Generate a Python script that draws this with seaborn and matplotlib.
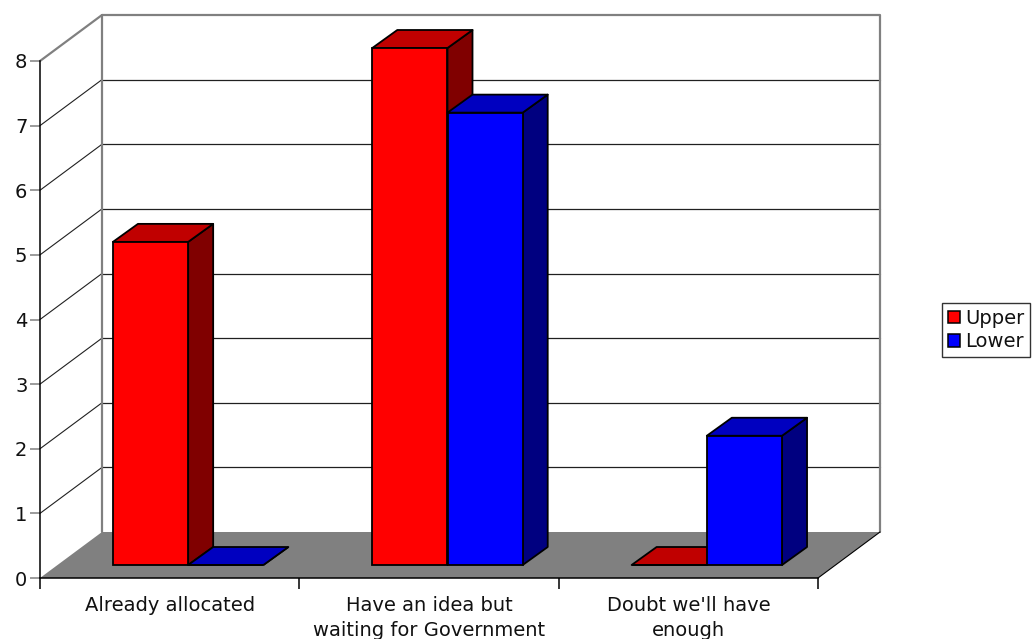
import numpy as np
import pandas as pd
import matplotlib
matplotlib.use("Agg")
import matplotlib.pyplot as plt
from matplotlib.patches import Polygon, Patch
import seaborn as sns

# ---- data ----
categories = ["Already allocated",
              "Have an idea but\nwaiting for Government",
              "Doubt we'll have\nenough"]
series = ["Upper", "Lower"]
upper_values = [5, 8, 0]
lower_values = [0, 7, 2]
y_ticks = [0, 1, 2, 3, 4, 5, 6, 7, 8]

front_colors = {"Upper": "#FF0000", "Lower": "#0000FF"}
top_colors = {"Upper": "#C00000", "Lower": "#0000C0"}
side_colors = {"Upper": "#800000", "Lower": "#000080"}

df = pd.DataFrame({
    "category": categories * 2,
    "series": ["Upper"] * 3 + ["Lower"] * 3,
    "value": upper_values + lower_values,
})

sns.set_theme(style="white")
plt.rcParams["font.family"] = ["DejaVu Sans"]

W, H = 1034, 639
fig = plt.figure(figsize=(W / 100, H / 100), dpi=100)
fig.patch.set_facecolor("white")

# front plane of the chart in pixels
x_left, x_right = 40, 818
y_zero, y_top = 578, 61
ax = fig.add_axes([x_left / W, (H - y_zero) / H,
                   (x_right - x_left) / W, (y_zero - y_top) / H])
ax.set_facecolor("none")

ymax = 8
ax.set_xlim(-0.5, 2.5)
ax.set_ylim(0, ymax)

# pixel -> data unit conversion for depth offsets
px_x = 3 / (x_right - x_left)
px_y = ymax / (y_zero - y_top)

def off(x, y, dx, dy):
    return (x + dx * px_x, y + dy * px_y)

# depth of walls / floor, and of bar front/back faces (pixels)
wall_dx, wall_dy = 62, 46
bar_front = (18.5, 13)
bar_back = (43.5, 31)

wall_grey = "#808080"
edge_lw = 1.3

# floor
floor = Polygon([(-0.5, 0), (2.5, 0), off(2.5, 0, wall_dx, wall_dy),
                 off(-0.5, 0, wall_dx, wall_dy)], closed=True,
                facecolor=wall_grey, edgecolor="none", clip_on=False, zorder=1)
ax.add_patch(floor)
fr = off(2.5, 0, wall_dx, wall_dy)
ax.plot([2.5, fr[0]], [0, fr[1]], color="black", lw=0.8, clip_on=False, zorder=1.2)

# back wall
bl = off(-0.5, 0, wall_dx, wall_dy)
tr = off(2.5, ymax, wall_dx, wall_dy)
back = Polygon([bl, (tr[0], bl[1]), tr, (bl[0], tr[1])], closed=True,
               facecolor="white", edgecolor="none", clip_on=False, zorder=0.5)
ax.add_patch(back)

# gridlines on back wall and left wall
for v in y_ticks[1:-1]:
    p = off(-0.5, v, wall_dx, wall_dy)
    q = off(2.5, v, wall_dx, wall_dy)
    ax.plot([p[0], q[0]], [p[1], q[1]], color="#202020", lw=0.9,
            clip_on=False, zorder=0.8)
    ax.plot([-0.5, p[0]], [v, p[1]], color="#202020", lw=0.8,
            clip_on=False, zorder=0.8)

# wall outlines
ax.plot([bl[0], bl[0], tr[0], tr[0]], [bl[1], tr[1], tr[1], bl[1]],
        color=wall_grey, lw=1.6, clip_on=False, zorder=0.9)
ax.plot([-0.5, bl[0]], [ymax, tr[1]], color=wall_grey, lw=1.6,
        clip_on=False, zorder=0.9)

# bars
sns.barplot(data=df, x="category", y="value", hue="series",
            palette=front_colors, hue_order=series, order=categories,
            width=0.58, edgecolor="black", linewidth=edge_lw, saturation=1,
            legend=False, ax=ax)

bars = [p for p in ax.patches if p is not floor and p is not back]
bar_series = [s for s in series for _ in categories]
bars_sorted = sorted(zip(bars, bar_series), key=lambda t: t[0].get_x())

z = 2
for patch, s in bars_sorted:
    x0 = patch.get_x()
    w = patch.get_width()
    h = patch.get_height()
    x1 = x0 + w
    fx, fy = bar_front
    bx, by = bar_back
    # front face: move the seaborn rectangle into the depth of the bar
    nx, ny = off(x0, 0, fx, fy)
    patch.set_xy((nx, ny))
    patch.set_clip_on(False)
    patch.set_zorder(z + 0.3)
    # side face
    side = Polygon([off(x1, 0, fx, fy), off(x1, 0, bx, by),
                    off(x1, h, bx, by), off(x1, h, fx, fy)], closed=True,
                   facecolor=side_colors[s], edgecolor="black", lw=edge_lw,
                   clip_on=False, zorder=z + 0.1, joinstyle="round")
    ax.add_patch(side)
    # top face
    top = Polygon([off(x0, h, fx, fy), off(x0, h, bx, by),
                   off(x1, h, bx, by), off(x1, h, fx, fy)], closed=True,
                  facecolor=top_colors[s], edgecolor="black", lw=edge_lw,
                  clip_on=False, zorder=z + 0.2, joinstyle="round")
    ax.add_patch(top)
    z += 1

# axes styling
for sp in ["top", "right"]:
    ax.spines[sp].set_visible(False)
for sp in ["left", "bottom"]:
    ax.spines[sp].set_color("black")
    ax.spines[sp].set_linewidth(1.1)
    ax.spines[sp].set_zorder(10)

font_size = 14

ax.set_yticks(y_ticks)
ax.set_yticklabels([str(v) for v in y_ticks])
ax.tick_params(axis="y", left=True, length=7, width=1.1, color=wall_grey,
               pad=2, labelsize=font_size, labelcolor="#111111")

ax.set_xticks(range(len(categories)))
ax.set_xticklabels(categories, linespacing=1.4)
ax.set_xticks([-0.5, 0.5, 1.5, 2.5], minor=True)
ax.tick_params(axis="x", which="major", bottom=False, length=0, pad=13,
               labelsize=font_size, labelcolor="#111111")
ax.tick_params(axis="x", which="minor", bottom=True, length=8, width=1.1,
               color="black")
ax.set_xlabel("")
ax.set_ylabel("")
ax.grid(False)

# legend
handles = [Patch(facecolor=front_colors[s], edgecolor="black", lw=1.1) for s in series]
leg = fig.legend(handles, series, loc="center left",
                 bbox_to_anchor=(942 / W, 1 - 330 / H),
                 frameon=True, fancybox=False, edgecolor="black",
                 fontsize=font_size, handlelength=0.6, handleheight=0.6,
                 handletextpad=0.3, borderpad=0.3, labelspacing=0.25,
                 borderaxespad=0)
leg.get_frame().set_linewidth(1.0)
for t in leg.get_texts():
    t.set_color("#111111")

fig.savefig("out.png", dpi=100, facecolor="white")
